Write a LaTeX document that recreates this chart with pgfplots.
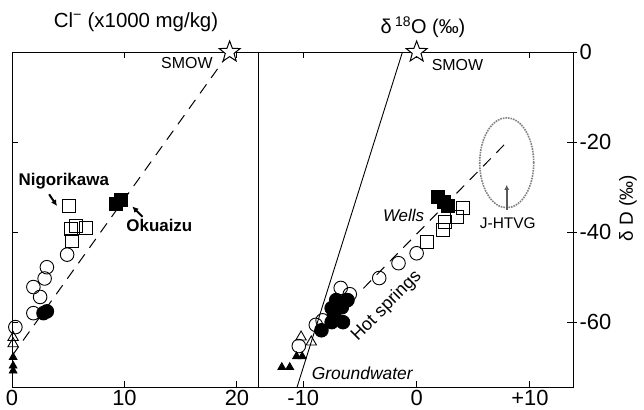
\documentclass[border=0pt]{standalone}
\usepackage{pgfplots}
\pgfplotsset{compat=1.18}
\usepackage{fontspec}
\setmainfont{Liberation Sans}
\usetikzlibrary{arrows.meta}
\pgfdeclareplotmark{ostar}{%
  \pgfpathmoveto{\pgfpointpolar{90}{\pgfplotmarksize}}%
  \pgfpathlineto{\pgfpointpolar{126}{0.42\pgfplotmarksize}}%
  \pgfpathlineto{\pgfpointpolar{162}{\pgfplotmarksize}}%
  \pgfpathlineto{\pgfpointpolar{198}{0.42\pgfplotmarksize}}%
  \pgfpathlineto{\pgfpointpolar{234}{\pgfplotmarksize}}%
  \pgfpathlineto{\pgfpointpolar{270}{0.42\pgfplotmarksize}}%
  \pgfpathlineto{\pgfpointpolar{306}{\pgfplotmarksize}}%
  \pgfpathlineto{\pgfpointpolar{342}{0.42\pgfplotmarksize}}%
  \pgfpathlineto{\pgfpointpolar{18}{\pgfplotmarksize}}%
  \pgfpathlineto{\pgfpointpolar{54}{0.42\pgfplotmarksize}}%
  \pgfpathclose
  \pgfusepathqfillstroke}
\begin{document}
\begin{tikzpicture}
\useasboundingbox (-12bp,-23bp) rectangle (632bp,387bp);
\pgfplotsset{every axis/.append style={
  scale only axis, height=335bp, ymin=-74.4, ymax=0, clip=false,
  tick align=inside, major tick length=6bp,
  axis line style={line width=1bp},
  every tick/.style={line width=1bp, black},
  tick label style={font=\fontsize{22}{22}\selectfont},
  /pgf/number format/assume math mode=true},
  opn/.style={only marks, mark=o, mark size=6.8bp, mark options={line width=0.9bp, black}},
  fcir/.style={only marks, mark=*, mark size=6.8bp, mark options={line width=0.9bp, black, fill=black}},
  osq/.style={only marks, mark=square, mark size=6.5bp, mark options={line width=0.9bp, black}},
  fsq/.style={only marks, mark=square*, mark size=6.5bp, mark options={line width=0.9bp, black, fill=black}},
  otri/.style={only marks, mark=triangle, mark size=6bp, mark options={line width=0.9bp, black}},
  ftri/.style={only marks, mark=triangle*, mark size=4.5bp, mark options={line width=0.8bp, black, fill=black}},
  ostarm/.style={only marks, mark=ostar, mark size=11bp, mark options={line width=1bp, draw=black, fill=white}},
}
% ---------------- left panel: Cl- vs dD
\begin{axis}[at={(0bp,0bp)}, anchor=south west, width=246bp,
  xmin=0, xmax=21.87, xtick={0,10,20}, xticklabels={0,10,20},
  xtick pos=both, xticklabel pos=lower,
  ytick={-60,-40,-20}, yticklabels={}, ytick pos=left]
\addplot[black, line width=1bp, dash pattern=on 11bp off 8bp] coordinates {(0,-67.5) (19.35,0)};
\addplot[opn] coordinates {(4.9,-45) (3.1,-47.8) (2.9,-50.3) (1.9,-52.2) (2.5,-54.4) (1.9,-58) (0.3,-61.1)};
\addplot[fcir] coordinates {(2.8,-58) (3.1,-57.6)};
\addplot[osq] coordinates {(5.1,-34.2) (5.7,-38.7) (6.6,-39.1) (5.2,-39.3) (5.3,-42)};
\addplot[fsq] coordinates {(9.2,-33.8) (9.7,-32.8)};
\addplot[otri] coordinates {(0.1,-63.4) (0.1,-64.8)};
\addplot[ftri] coordinates {(0.1,-67.8) (0.1,-69.7) (0.1,-70.8)};
\addplot[ostarm] coordinates {(19.35,0)};
\node[font=\fontsize{16}{16}\selectfont] at (axis cs:15.55,-2.5) {SMOW};
\node[font=\bfseries\fontsize{17}{17}\selectfont] at (axis cs:4.6,-28.7) {Nigorikawa};
\node[font=\bfseries\fontsize{17}{17}\selectfont] at (axis cs:13.1,-38.6) {Okuaizu};
\draw[-{Latex[length=6bp,width=6bp]}, line width=2bp] (axis cs:3.3,-31.6) -- (axis cs:4.0,-34.2);
\draw[-{Latex[length=6bp,width=6bp]}, line width=2bp] (axis cs:11.6,-36.6) -- (axis cs:10.7,-34.3);
\end{axis}
% ---------------- right panel: d18O vs dD
\begin{axis}[at={(246bp,0bp)}, anchor=south west, width=315bp,
  xmin=-14, xmax=13.8, xtick={-10,0,10}, xticklabels={-10,0,+10},
  xtick pos=both, xticklabel pos=lower,
  ytick={-60,-40,-20,0}, yticklabels={-60,-40,-20,0},
  ytick pos=right, yticklabel pos=right,
  yticklabel style={xshift=3bp}]
\addplot[black, line width=0.9bp] coordinates {(-10.55,-74.4) (-1.25,0)};
\addplot[black, line width=1bp, dash pattern=on 11bp off 8bp] coordinates {(-4.7,-52.5) (7.96,-20)};
\draw[gray, densely dotted, line width=1.6bp] (axis cs:7.95,-24.6) ellipse [x radius=27bp, y radius=45bp];
\draw[gray!70!black, line width=2bp, -{Latex[length=5bp,width=5bp]}] (axis cs:7.95,-35) -- (axis cs:7.95,-29.5);
\addplot[fsq] coordinates {(1.9,-32.2) (2.4,-33.2) (2.8,-34.1)};
\addplot[osq] coordinates {(4.1,-34.7) (3.6,-36.6) (2.5,-37.8) (2.3,-39.6) (0.9,-42.2)};
\addplot[opn] coordinates {(0,-44.7) (-1.6,-46.9) (-3.3,-50.2) (-6.7,-52.4) (-5.9,-53.8) (-8.3,-59.6) (-8.9,-60.6) (-10.4,-65.3)};
\addplot[fcir] coordinates {(-7.1,-55.1) (-6.1,-55.1) (-7.5,-56.9) (-6.6,-56.7) (-7.3,-58.4) (-7.5,-60) (-6.5,-60) (-8.4,-61.8)};
\addplot[otri] coordinates {(-10.2,-63.3) (-9.3,-64.4)};
\addplot[ftri] coordinates {(-10.6,-67.6) (-10.1,-67.6) (-11.9,-70) (-11.2,-70)};
\addplot[ostarm] coordinates {(0,0)};
\node[font=\fontsize{16}{16}\selectfont] at (axis cs:3.6,-3.0) {SMOW};
\node[font=\itshape\fontsize{17}{17}\selectfont] at (axis cs:-1.15,-36.2) {Wells};
\node[font=\fontsize{15.5}{15.5}\selectfont] at (axis cs:8.05,-38) {J-HTVG};
\node[font=\itshape\fontsize{17.5}{17.5}\selectfont] at (axis cs:-4.8,-71.3) {Groundwater};
\node[font=\fontsize{18}{18}\selectfont, rotate=45] at (axis cs:-2.65,-56.4) {Hot springs};
\draw[line width=1bp] (axis cs:13.8,0) -- ++(4bp,0bp);
\draw[line width=1bp] (axis cs:13.8,-20) -- ++(4bp,0bp);
\draw[line width=1bp] (axis cs:13.8,-40) -- ++(4bp,0bp);
\draw[line width=1bp] (axis cs:13.8,-60) -- ++(4bp,0bp);
\end{axis}
\node[font=\fontsize{20.5}{20.5}\selectfont] at (124bp,365bp) {Cl\textsuperscript{−} (x1000 mg/kg)};
\node[font=\fontsize{20}{20}\selectfont] at (411bp,360bp) {δ\,\textsuperscript{18}O (‰)};
\node[font=\fontsize{19}{19}\selectfont, rotate=90] at (616bp,179bp) {δ D (‰)};
\end{tikzpicture}
\end{document}
